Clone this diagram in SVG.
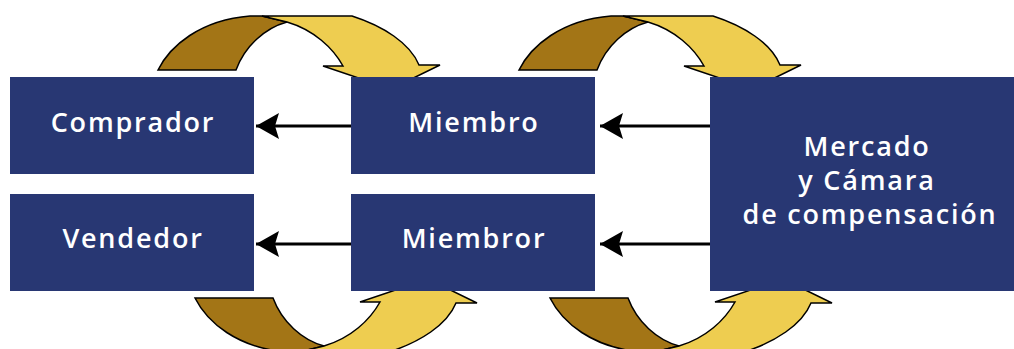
<svg xmlns="http://www.w3.org/2000/svg" width="1014" height="349" viewBox="0 0 1014 349">
  <defs>
    <style>
      .box { fill: #283773; }
      .label { fill: #ffffff; font-family: "Open Sans", "Noto Sans", sans-serif; font-size: 27px; font-weight: 600; text-anchor: middle; letter-spacing: 1.8px; }
      .flow { stroke: #000000; stroke-width: 3; fill: none; }
      .back { fill: #A37516; stroke: #000000; stroke-width: 1.5; stroke-linejoin: miter; }
      .front { fill: #EECD50; stroke: #000000; stroke-width: 1.5; stroke-linejoin: miter; }
    </style>
    <marker id="head" markerUnits="userSpaceOnUse" markerWidth="24" markerHeight="28" viewBox="0 -14 24 28" refX="23" refY="0" orient="auto">
      <path d="M23,0 L0,-13 L4,0 L0,13 Z" fill="#000000"/>
    </marker>
    <!-- two-tone curved arrow, pointing down-right -->
    <g id="swoop">
      <path class="back" d="M158,70 C170,46 200,20 250,16 L262,16 L287,22 C265,28 245,46 236,70 Z"/>
      <path class="front" d="M262,16 L352,16 C383,26 410,43 419,65 L440,65 L391,89 L323,66 L343,66 C333,48 314,30 287,22 Z"/>
    </g>
  </defs>

  <!-- curved exchange arrows -->
  <g id="swoops">
    <use href="#swoop"/>
    <use href="#swoop" transform="translate(361,0)"/>
    <use href="#swoop" transform="translate(37,368) scale(1,-1)"/>
    <use href="#swoop" transform="translate(392,368) scale(1,-1)"/>
  </g>

  <!-- connectors -->
  <g id="connectors">
    <line class="flow" x1="351" y1="126" x2="256" y2="126" marker-end="url(#head)"/>
    <line class="flow" x1="351" y1="244" x2="256" y2="244" marker-end="url(#head)"/>
    <line class="flow" x1="710" y1="126" x2="600" y2="126" marker-end="url(#head)"/>
    <line class="flow" x1="710" y1="244" x2="600" y2="244" marker-end="url(#head)"/>
  </g>

  <g id="comprador">
    <rect class="box" x="10" y="77" width="244" height="97"/>
    <text class="label" x="133" y="132">Comprador</text>
  </g>
  <g id="vendedor">
    <rect class="box" x="10" y="194" width="244" height="97"/>
    <text class="label" x="133" y="248">Vendedor</text>
  </g>
  <g id="miembro">
    <rect class="box" x="351" y="77" width="244" height="97"/>
    <text class="label" x="474" y="132">Miembro</text>
  </g>
  <g id="miembror">
    <rect class="box" x="351" y="194" width="244" height="97"/>
    <text class="label" x="474" y="248">Miembror</text>
  </g>
  <g id="mercado">
    <rect class="box" x="710" y="77" width="304" height="214"/>
    <text class="label" x="867" y="156">Mercado</text>
    <text class="label" x="867" y="190">y Cámara</text>
    <text class="label" x="870" y="224">de compensación</text>
  </g>
</svg>
